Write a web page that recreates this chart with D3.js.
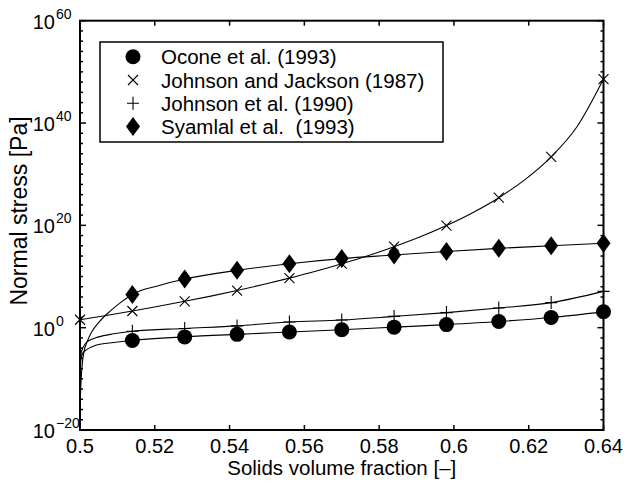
<!DOCTYPE html>
<html lang="en">
<head>
<meta charset="utf-8">
<script src="https://cdn.jsdelivr.net/npm/d3@7"></script>
<style>
  body { margin: 0; background: white; }
  svg { font-family: "Liberation Sans", Arial, Helvetica, sans-serif; }
  .curve { fill: none; stroke: black; stroke-width: 1.1px; }
  .frame { fill: none; stroke: black; stroke-width: 2px; }
  .tick { stroke: black; stroke-width: 1.5px; }
</style>
</head>
<body>
<svg width="624" height="483"></svg>
<script>
// x: solids volume fraction, values: log10 of normal stress [Pa]
var markerX = [0.514, 0.528, 0.542, 0.556, 0.570, 0.584, 0.598, 0.612, 0.626, 0.640];

var oconeMarks   = [-2.5, -1.8, -1.3, -0.85, -0.4, 0.1, 0.6, 1.2, 2.0, 3.1];
var johnson90Marks = [-0.7, -0.15, 0.35, 1.1, 1.5, 2.2, 2.95, 3.85, 4.9, 7.1];
var jjMarkX = [0.5, 0.514, 0.528, 0.542, 0.556, 0.570, 0.584, 0.598, 0.612, 0.626, 0.640];
var jjMarks = [1.55, 3.26, 5.15, 7.26, 9.68, 12.5, 15.82, 19.96, 25.41, 33.39, 48.6];
var syamlalMarks = [6.5, 9.5, 11.2, 12.5, 13.5, 14.2, 14.9, 15.5, 16.0, 16.5];

// curve samples
var oconeCurveX = [0.5, 0.50002, 0.5001, 0.5003, 0.5008, 0.502, 0.505, 0.509, 0.514, 0.528, 0.542, 0.556, 0.570, 0.584, 0.598, 0.612, 0.626, 0.640];
var oconeCurveY = [-30, -20, -8, -6, -4.9, -4.2, -3.3, -2.9, -2.5, -1.8, -1.3, -0.85, -0.4, 0.1, 0.6, 1.2, 2.0, 3.1];

var johnson90CurveX = [0.5, 0.50002, 0.5001, 0.5003, 0.5008, 0.502, 0.505, 0.509, 0.514, 0.528, 0.542, 0.556, 0.570, 0.584, 0.598, 0.612, 0.626, 0.640];
var johnson90CurveY = [-30, -20, -7, -5, -3.9, -2.7, -1.8, -1.2, -0.7, -0.15, 0.35, 1.1, 1.5, 2.2, 2.95, 3.85, 4.9, 7.1];

var jjCurveX = [0.5, 0.507, 0.514, 0.521, 0.528, 0.535, 0.542, 0.549, 0.556, 0.563, 0.570, 0.577, 0.584, 0.591, 0.598, 0.605, 0.612, 0.619, 0.626, 0.633, 0.640];
var jjCurveY = [1.55, 2.39, 3.26, 4.18, 5.15, 6.17, 7.26, 8.43, 9.68, 11.02, 12.5, 14.07, 15.82, 17.76, 19.96, 22.47, 25.41, 28.94, 33.39, 39.38, 48.6];

var syamlalCurveX = [0.5, 0.5001, 0.5005, 0.501, 0.502, 0.503, 0.505, 0.508, 0.511, 0.514, 0.521, 0.528, 0.542, 0.556, 0.570, 0.584, 0.598, 0.612, 0.626, 0.640];
var syamlalCurveY = [-30, -14, -8, -5, -2.6, -1.0, 1.0, 3.2, 5.0, 6.5, 8.2, 9.5, 11.2, 12.5, 13.5, 14.2, 14.9, 15.5, 16.0, 16.5];

var legendLabels = ["Ocone et al. (1993)", "Johnson and Jackson (1987)", "Johnson et al. (1990)", "Syamlal et al.  (1993)"];
var legendSymbols = ["circle", "cross", "plus", "diamond"];

var xTicks = [0.5, 0.52, 0.54, 0.56, 0.58, 0.6, 0.62, 0.64];
var yTickExp = [60, 40, 20, 0, -20];

var svg = d3.select("svg");
var pLeft = 80, pRight = 603.5, pTop = 20.7, pBottom = 430;

var x = d3.scaleLinear().domain([0.5, 0.64]).range([pLeft, pRight]);
var y = d3.scaleLog().domain([1e-20, 1e60]).range([pBottom, pTop]);

var pow = e => Math.pow(10, e);

svg.append("clipPath").attr("id", "plotclip")
  .append("rect").attr("x", pLeft).attr("y", pTop).attr("width", pRight - pLeft).attr("height", pBottom - pTop);

// ticks (inward, all four sides)
var ticks = svg.append("g");
xTicks.forEach(t => {
  ticks.append("line").attr("class", "tick")
    .attr("x1", x(t)).attr("x2", x(t)).attr("y1", pBottom).attr("y2", pBottom - 5);
  ticks.append("line").attr("class", "tick")
    .attr("x1", x(t)).attr("x2", x(t)).attr("y1", pTop).attr("y2", pTop + 5);
  svg.append("text").attr("x", x(t)).attr("y", pBottom + 23)
    .attr("text-anchor", "middle").attr("font-size", 20)
    .text(String(t));
});
for (var e = -20; e <= 60; e += 2) {
  var len = (e % 20 === 0) ? 6 : 3;
  ticks.append("line").attr("class", "tick")
    .attr("x1", pLeft).attr("x2", pLeft + len).attr("y1", y(pow(e))).attr("y2", y(pow(e)));
  ticks.append("line").attr("class", "tick")
    .attr("x1", pRight).attr("x2", pRight - len).attr("y1", y(pow(e))).attr("y2", y(pow(e)));
}
yTickExp.forEach(ex => {
  svg.append("text").attr("font-size", 20).attr("x", 55).attr("y", y(pow(ex)) + 8)
    .attr("text-anchor", "end").text("10");
  svg.append("text").attr("font-size", 14).attr("x", 56).attr("y", y(pow(ex)) - 2)
    .text(ex < 0 ? "\u2212" + (-ex) : String(ex));
});

svg.append("rect").attr("class", "frame")
  .attr("x", pLeft).attr("y", pTop).attr("width", pRight - pLeft).attr("height", pBottom - pTop);

// axis labels
svg.append("text").attr("x", (pLeft + pRight) / 2).attr("y", 475)
  .attr("text-anchor", "middle").attr("font-size", 20.5)
  .text("Solids volume fraction [\u2013]");
svg.append("text").attr("transform", "translate(27,211) rotate(-90)")
  .attr("text-anchor", "middle").attr("font-size", 23)
  .text("Normal stress [Pa]");

// curves
var line = d3.line().x(d => x(d[0])).y(d => y(pow(d[1]))).curve(d3.curveMonotoneX);
var curves = svg.append("g").attr("clip-path", "url(#plotclip)");
[[oconeCurveX, oconeCurveY], [johnson90CurveX, johnson90CurveY], [jjCurveX, jjCurveY], [syamlalCurveX, syamlalCurveY]]
  .forEach(c => {
    curves.append("path").attr("class", "curve").attr("d", line(d3.zip(c[0], c[1])));
  });

// markers
function drawMarker(g, kind, cx, cy) {
  if (kind === "circle") {
    g.append("circle").attr("cx", cx).attr("cy", cy).attr("r", 7.5).attr("fill", "black");
  } else if (kind === "diamond") {
    g.append("path").attr("d", "M" + cx + "," + (cy - 9.5) + "L" + (cx + 7) + "," + cy + "L" + cx + "," + (cy + 9.5) + "L" + (cx - 7) + "," + cy + "Z")
      .attr("fill", "black");
  } else if (kind === "cross") {
    g.append("path").attr("d", "M" + (cx - 5) + "," + (cy - 5) + "L" + (cx + 5) + "," + (cy + 5) + "M" + (cx - 5) + "," + (cy + 5) + "L" + (cx + 5) + "," + (cy - 5))
      .attr("stroke", "black").attr("stroke-width", 1.1);
  } else if (kind === "plus") {
    g.append("path").attr("d", "M" + cx + "," + (cy - 6.5) + "L" + cx + "," + (cy + 6.5) + "M" + (cx - 6) + "," + cy + "L" + (cx + 6) + "," + cy)
      .attr("stroke", "black").attr("stroke-width", 1.1);
  }
}
var marks = svg.append("g");
markerX.forEach((mx, i) => drawMarker(marks, "circle", x(mx), y(pow(oconeMarks[i]))));
markerX.forEach((mx, i) => drawMarker(marks, "plus", x(mx), y(pow(johnson90Marks[i]))));
jjMarkX.forEach((mx, i) => drawMarker(marks, "cross", x(mx), y(pow(jjMarks[i]))));
markerX.forEach((mx, i) => drawMarker(marks, "diamond", x(mx), y(pow(syamlalMarks[i]))));

// legend
var lg = svg.append("g");
lg.append("rect").attr("x", 100).attr("y", 42).attr("width", 343).attr("height", 100)
  .attr("fill", "white").attr("stroke", "black").attr("stroke-width", 1.5);
legendLabels.forEach((lab, i) => {
  var cy = 56.7 + i * 23.3;
  drawMarker(lg, legendSymbols[i], 133, cy);
  lg.append("text").attr("x", 161).attr("y", cy + 7.5).attr("font-size", 20.5)
    .style("white-space", "pre").text(lab);
});
</script>
</body>
</html>
